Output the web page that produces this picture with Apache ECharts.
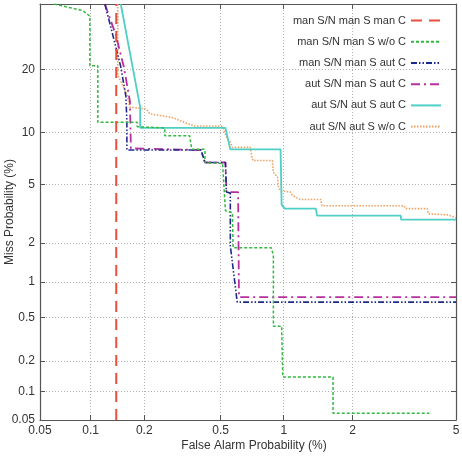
<!DOCTYPE html>
<html>
<head>
<meta charset="utf-8">
<script src="https://cdn.jsdelivr.net/npm/echarts@6/dist/echarts.min.js"></script>
<style>
  html, body { margin: 0; padding: 0; background: #fff; }
  #chart { width: 462px; height: 461px; }
</style>
</head>
<body>
<div id="chart"></div>
<script>
// DET curves: [false alarm %, miss %]
const seriesNames = [
  'man S/N man S man C',
  'man S/N man S w/o C',
  'man S/N man S aut C',
  'aut S/N man S aut C',
  'aut S/N aut S aut C',
  'aut S/N aut S w/o C'
]

const manManManC = [[0.14, 0.05], [0.14, 35]]

const manManWoC = [
  [0.061, 35], [0.090, 33.3], [0.099, 31.9], [0.099, 20.7], [0.110, 20.7], [0.110, 11.3],
  [0.183, 11.3], [0.183, 10.7], [0.258, 10.55], [0.258, 9.6], [0.348, 9.6], [0.357, 8.07],
  [0.417, 8.07], [0.417, 6.78], [0.511, 6.69], [0.528, 3.37], [0.571, 3.27], [0.576, 1.84],
  [0.876, 1.84], [0.896, 1.62], [0.896, 0.42], [0.978, 0.42], [0.99, 0.139], [1.653, 0.139],
  [1.653, 0.059], [4.0, 0.059]
]

const manManAutC = [
  [0.1207, 35], [0.1338, 27.4], [0.1484, 20.5], [0.1584, 15.2], [0.1605, 11.5], [0.1605, 8.0],
  [0.398, 8.0], [0.417, 6.78], [0.528, 6.78], [0.534, 4.47], [0.558, 4.40], [0.558, 1.906],
  [0.603, 0.681], [5, 0.681]
]

const autManAutC = [
  [0.1207, 35], [0.1392, 27.4], [0.1543, 20.5], [0.1668, 14.4], [0.1690, 8.17], [0.398, 8.0],
  [0.417, 6.78], [0.528, 6.78], [0.534, 4.47], [0.609, 4.47], [0.615, 0.750], [5, 0.750]
]

const autAutAutC = [
  [0.1484, 35], [0.190, 13.45], [0.190, 10.55], [0.528, 10.55], [0.558, 8.07], [0.967, 8.07],
  [0.978, 3.70], [1.01, 3.48], [1.393, 3.48], [1.41, 3.12], [3.12, 3.12], [3.13, 2.93], [5, 2.93]
]

const autAutWoC = [
  [0.1428, 35], [0.1428, 18.9], [0.1605, 15.5], [0.1668, 13.45], [0.205, 13.16], [0.215, 12.45],
  [0.284, 11.92], [0.336, 11.15], [0.370, 10.79], [0.506, 10.79], [0.522, 10.1], [0.534, 9.47],
  [0.558, 8.86], [0.571, 8.28], [0.696, 8.28], [0.711, 7.25], [0.719, 6.96], [0.886, 6.96],
  [0.896, 5.93], [0.936, 5.55], [0.947, 4.76], [0.967, 4.54], [1.073, 4.47], [1.094, 4.26],
  [1.186, 4.0], [1.465, 4.0], [1.479, 3.64], [3.21, 3.64], [3.26, 3.48], [3.93, 3.48],
  [3.97, 3.21], [4.66, 3.16], [5, 3.02]
]

const xTicks = [0.05, 0.1, 0.2, 0.5, 1, 2, 5]
const yTicks = [0.05, 0.1, 0.2, 0.5, 1, 2, 5, 10, 20]
const xRange = [0.05, 5]
const yRange = [0.05, 35]

// inverse normal CDF (Acklam)
function probit(p) {
  const a = [-3.969683028665376e+01, 2.209460984245205e+02, -2.759285104469687e+02,
    1.383577518672690e+02, -3.066479806614716e+01, 2.506628277459239e+00]
  const b = [-5.447609879822406e+01, 1.615858368580409e+02, -1.556989798598866e+02,
    6.680131188771972e+01, -1.328068155288572e+01]
  const c = [-7.784894002430293e-03, -3.223964580411365e-01, -2.400758277161838e+00,
    -2.549732539343734e+00, 4.374664141464968e+00, 2.938163982698783e+00]
  const d = [7.784695709041462e-03, 3.224671290700398e-01, 2.445134137142996e+00,
    3.754408661907416e+00]
  const pl = 0.02425
  let q, r
  if (p < pl) {
    q = Math.sqrt(-2 * Math.log(p))
    return (((((c[0] * q + c[1]) * q + c[2]) * q + c[3]) * q + c[4]) * q + c[5]) /
      ((((d[0] * q + d[1]) * q + d[2]) * q + d[3]) * q + 1)
  }
  if (p <= 1 - pl) {
    q = p - 0.5
    r = q * q
    return (((((a[0] * r + a[1]) * r + a[2]) * r + a[3]) * r + a[4]) * r + a[5]) * q /
      (((((b[0] * r + b[1]) * r + b[2]) * r + b[3]) * r + b[4]) * r + 1)
  }
  q = Math.sqrt(-2 * Math.log(1 - p))
  return -(((((c[0] * q + c[1]) * q + c[2]) * q + c[3]) * q + c[4]) * q + c[5]) /
    ((((d[0] * q + d[1]) * q + d[2]) * q + d[3]) * q + 1)
}

const pz = v => probit(v / 100)
const toDet = arr => arr.map(([x, y]) => [pz(x), pz(y)])

function tickLabel(ticks) {
  return v => {
    let best = ticks[0]
    ticks.forEach(t => { if (Math.abs(pz(t) - v) < Math.abs(pz(best) - v)) best = t })
    return String(best)
  }
}

const frame = { show: true, lineStyle: { color: '#555', width: 1.2 } }
const grid = { show: true, lineStyle: { color: '#b0b0b0', type: [1, 2], width: 1 } }
const tickIn = { show: true, inside: true, length: 5, lineStyle: { color: '#555' } }

const xVals = xTicks.map(pz)
const yVals = yTicks.map(pz)

const chart = echarts.init(document.getElementById('chart'))

const styles = [
  { color: '#e8503e', type: [11, 7], width: 2 },
  { color: '#33b840', type: [3, 2], width: 1.5 },
  { color: '#1e2a8a', type: [6, 2, 1.5, 2, 1.5, 2], width: 1.6 },
  { color: '#b8309f', type: [9, 4, 2, 4], width: 1.8 },
  { color: '#4fcfc6', type: 'solid', width: 1.8 },
  { color: '#f0a060', type: [1.5, 1.5], width: 1.6 }
]
const datasets = [manManManC, manManWoC, manManAutC, autManAutC, autAutAutC, autAutWoC]

chart.setOption({
  animation: false,
  textStyle: { fontFamily: 'Liberation Sans, Arial, sans-serif' },
  grid: { left: 40, right: 6, top: 4, bottom: 41, outerBoundsMode: 'none' },
  legend: {
    orient: 'vertical',
    right: 15,
    top: 10,
    align: 'right',
    itemWidth: 30,
    itemHeight: 14,
    itemGap: 10,
    itemStyle: { opacity: 0 },
    textStyle: { fontSize: 11, color: '#333' },
    data: seriesNames
  },
  xAxis: [
    {
      type: 'value',
      min: pz(xRange[0]),
      max: pz(xRange[1]),
      name: 'False Alarm Probability (%)',
      nameLocation: 'middle',
      nameGap: 20,
      nameMoveOverlap: false,
      nameTextStyle: { fontSize: 12, color: '#333', padding: [0, 0, 0, 12] },
      axisLine: frame,
      axisTick: { ...tickIn, customValues: xVals },
      axisLabel: { customValues: xVals, formatter: tickLabel(xTicks), fontSize: 12, color: '#333', margin: 5 },
      splitLine: grid
    },
    {
      type: 'value',
      position: 'top',
      min: pz(xRange[0]),
      max: pz(xRange[1]),
      axisLine: frame,
      axisTick: { ...tickIn, customValues: xVals },
      axisLabel: { show: false },
      splitLine: { show: false }
    }
  ],
  yAxis: [
    {
      type: 'value',
      min: pz(yRange[0]),
      max: pz(yRange[1]),
      name: 'Miss Probability (%)',
      nameLocation: 'middle',
      nameGap: 24,
      nameMoveOverlap: false,
      nameTextStyle: { fontSize: 12, color: '#333' },
      axisLine: frame,
      axisTick: { ...tickIn, customValues: yVals },
      axisLabel: { customValues: yVals, formatter: tickLabel(yTicks), fontSize: 12, color: '#333', margin: 5 },
      splitLine: grid
    },
    {
      type: 'value',
      position: 'right',
      min: pz(yRange[0]),
      max: pz(yRange[1]),
      axisLine: frame,
      axisTick: { ...tickIn, customValues: yVals },
      axisLabel: { show: false },
      splitLine: { show: false }
    }
  ],
  series: datasets.map((d, i) => ({
    name: seriesNames[i],
    type: 'line',
    data: toDet(d),
    symbol: 'none',
    clip: true,
    lineStyle: styles[i],
    itemStyle: { color: styles[i].color },
    z: 10 - i
  }))
})
</script>
</body>
</html>
